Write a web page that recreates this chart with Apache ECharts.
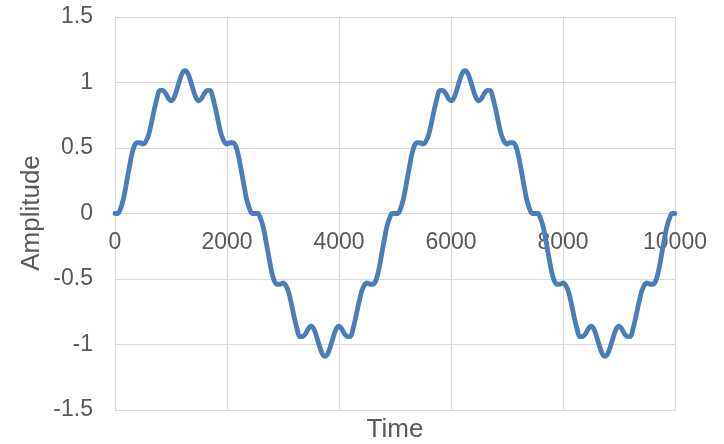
<!DOCTYPE html>
<html>
<head>
<meta charset="utf-8">
<script src="https://cdn.jsdelivr.net/npm/echarts@6/dist/echarts.min.js"></script>
<style>html,body{margin:0;padding:0;background:#fff}#c{width:724px;height:444px}</style>
</head>
<body>
<div id="c"></div>
<script>
// Sampling step along the Time axis (values read every 50 time units)
const timeStep = 50;
// Amplitude, t = 0, 50, 100, ... 10000
const amplitude = [
  0, 0.00, 0.04, 0.11, 0.22, 0.34, 0.45, 0.52, 0.54, 0.54, 0.53, 0.55, 0.60, 0.69, 0.79, 0.88, 0.94, 0.94, 0.92, 0.88,
  0.86, 0.88, 0.94, 1.01, 1.07, 1.09, 1.07, 1.01, 0.94, 0.88, 0.86, 0.88, 0.92, 0.94, 0.94, 0.88, 0.79, 0.69, 0.60, 0.55,
  0.53, 0.54, 0.54, 0.52, 0.45, 0.34, 0.22, 0.11, 0.04, 0.00,
  0, -0.00, -0.04, -0.11, -0.22, -0.34, -0.45, -0.52, -0.54, -0.54, -0.53, -0.55, -0.60, -0.69, -0.79, -0.88, -0.94, -0.94, -0.92, -0.88,
  -0.86, -0.88, -0.94, -1.01, -1.07, -1.09, -1.07, -1.01, -0.94, -0.88, -0.86, -0.88, -0.92, -0.94, -0.94, -0.88, -0.79, -0.69, -0.60, -0.55,
  -0.53, -0.54, -0.54, -0.52, -0.45, -0.34, -0.22, -0.11, -0.04, -0.00,
  0, 0.00, 0.04, 0.11, 0.22, 0.34, 0.45, 0.52, 0.54, 0.54, 0.53, 0.55, 0.60, 0.69, 0.79, 0.88, 0.94, 0.94, 0.92, 0.88,
  0.86, 0.88, 0.94, 1.01, 1.07, 1.09, 1.07, 1.01, 0.94, 0.88, 0.86, 0.88, 0.92, 0.94, 0.94, 0.88, 0.79, 0.69, 0.60, 0.55,
  0.53, 0.54, 0.54, 0.52, 0.45, 0.34, 0.22, 0.11, 0.04, 0.00,
  0, -0.00, -0.04, -0.11, -0.22, -0.34, -0.45, -0.52, -0.54, -0.54, -0.53, -0.55, -0.60, -0.69, -0.79, -0.88, -0.94, -0.94, -0.92, -0.88,
  -0.86, -0.88, -0.94, -1.01, -1.07, -1.09, -1.07, -1.01, -0.94, -0.88, -0.86, -0.88, -0.92, -0.94, -0.94, -0.88, -0.79, -0.69, -0.60, -0.55,
  -0.53, -0.54, -0.54, -0.52, -0.45, -0.34, -0.22, -0.11, -0.04, -0.00,
  0
];
const xTicks = [0, 2000, 4000, 6000, 8000, 10000];
const yTicks = [-1.5, -1, -0.5, 0, 0.5, 1, 1.5];
const xTitle = 'Time';
const yTitle = 'Amplitude';

const seriesData = amplitude.map((v, i) => [i * timeStep, v]);
const font = '"Liberation Sans", Arial, sans-serif';
const textColor = '#595959';
const gridColor = '#d9d9d9';

const chart = echarts.init(document.getElementById('c'), null, {renderer: 'canvas'});
chart.setOption({
  animation: false,
  grid: {left: 115, right: 49, top: 17, bottom: 34, containLabel: false},
  xAxis: {
    type: 'value',
    min: xTicks[0], max: xTicks[xTicks.length - 1], interval: xTicks[1] - xTicks[0],
    axisLine: {show: true, onZero: false, lineStyle: {color: gridColor, width: 1}},
    axisTick: {show: false},
    // labels sit just under the zero line, as in the reference
    axisLabel: {color: textColor, fontSize: 23, fontFamily: font, margin: -179,
      formatter: v => String(v)},
    splitLine: {show: true, lineStyle: {color: gridColor, width: 1}}
  },
  yAxis: {
    type: 'value',
    min: yTicks[0], max: yTicks[yTicks.length - 1], interval: yTicks[1] - yTicks[0],
    axisLine: {show: true, onZero: false, lineStyle: {color: gridColor, width: 1}},
    axisTick: {show: false},
    axisLabel: {color: textColor, fontSize: 23, fontFamily: font, margin: 22,
      formatter: v => String(v)},
    splitLine: {show: true, lineStyle: {color: gridColor, width: 1}}
  },
  graphic: [{
    type: 'text', x: 395, y: 430,
    style: {text: xTitle, fill: textColor, font: '26px ' + font, align: 'center', verticalAlign: 'middle'}
  }, {
    type: 'text', x: 32, y: 213, rotation: Math.PI / 2,
    style: {text: yTitle, fill: textColor, font: '26px ' + font, align: 'center', verticalAlign: 'middle'}
  }],
  series: [{
    type: 'line',
    data: seriesData,
    smooth: 0.35,
    showSymbol: false,
    lineStyle: {color: '#4a7ebb', width: 4.8, cap: 'round', join: 'round'},
    itemStyle: {color: '#4a7ebb'}
  }]
});
</script>
</body>
</html>
